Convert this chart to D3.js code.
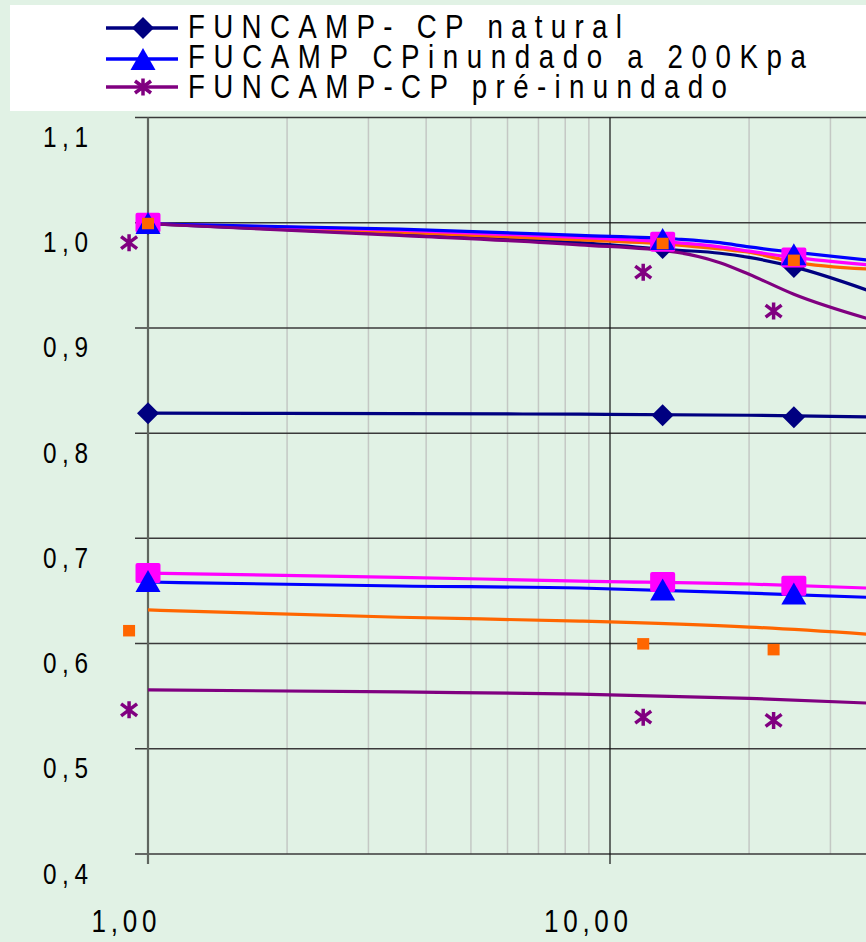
<!DOCTYPE html>
<html>
<head>
<meta charset="utf-8">
<script src="https://cdn.jsdelivr.net/npm/d3@7"></script>
<style>
  html, body { margin: 0; padding: 0; background: #e1f2e5; }
  svg { display: block; }
  text { font-family: "Liberation Sans", Arial, Helvetica, sans-serif; fill: #000; }
</style>
</head>
<body>
<svg></svg>
<script>
// line curves (x = stress, y = void ratio)
var lineX = [1, 3.5, 8.6, 13.9, 17.3, 20, 25, 36];
var upperNatural  = [0.999, 0.989, 0.981, 0.974, 0.971, 0.967, 0.958, 0.936];
var upperInundado = [0.999, 0.994, 0.988, 0.9845, 0.981, 0.977, 0.972, 0.9645];
var upperMagenta  = [0.999, 0.993, 0.986, 0.981, 0.977, 0.973, 0.967, 0.960];
var upperOrange   = [0.999, 0.991, 0.9836, 0.979, 0.975, 0.972, 0.9626, 0.956];
var upperPre      = [0.999, 0.988, 0.979, 0.972, 0.962, 0.951, 0.932, 0.909];

var lowerX = [1, 3.5, 8.6, 20, 36];
var lowerNatural  = [0.819, 0.8185, 0.818, 0.817, 0.8155];
var lowerInundado = [0.6585, 0.6547, 0.6528, 0.648, 0.644];
var lowerMagenta  = [0.667, 0.663, 0.6594, 0.6566, 0.6528];
var lowerOrange   = [0.632, 0.625, 0.6214, 0.6157, 0.609];
var lowerPre      = [0.556, 0.554, 0.552, 0.548, 0.5435];

// measured points
var markX  = [1, 13, 25];
var shiftX = [0.91, 11.8, 22.6];
var natUpperPts = [0.999, 0.976, 0.958], natLowerPts = [0.819, 0.817, 0.815];
var inuUpperPts = [0.9997, 0.9845, 0.970], inuLowerPts = [0.6594, 0.6513, 0.6475];
var magUpperPts = [1.0, 0.982, 0.967], magLowerPts = [0.667, 0.6585, 0.655];
var oraUpperPts = [0.999, 0.980, 0.964], oraLowerPts = [0.612, 0.5995, 0.594];
var preUpperPts = [0.981, 0.953, 0.916], preLowerPts = [0.537, 0.530, 0.527];

var legendLabels = ["FUNCAMP- CP natural", "FUCAMP CPinundado a 200Kpa", "FUNCAMP-CP pré-inundado"];
var yTicks = [0.4, 0.5, 0.6, 0.7, 0.8, 0.9, 1.0, 1.1];
var xTicks = [1, 10];
var xMinor = [2, 3, 4, 5, 6, 7, 8, 9, 20, 30];

var width = 866,
    height = 942;

var squeeze = 0.84;   // glyphs in the original are narrow

var colors = { natural: "#000080", inundado: "#0000ff", pre: "#800080", magenta: "#ff00ff", orange: "#ff6600" };

var svg = d3.select("svg")
  .attr("width", width)
  .attr("height", height);

var x = d3.scaleLog()
  .domain([1, 10])
  .range([148, 610]);

var y = d3.scaleLinear()
  .domain([0.4, 1.1])
  .range([854, 117.5]);

var commaFmt = function(f) { return function(d) { return d3.format(f)(d).replace(".", ","); }; };

// grid
var grid = svg.append("g").attr("class", "grid");

grid.selectAll("line.minor")
  .data(xMinor)
  .enter().append("line")
    .attr("class", "minor")
    .attr("x1", function(d) { return x(d); })
    .attr("x2", function(d) { return x(d); })
    .attr("y1", y(1.1))
    .attr("y2", y(0.4))
    .attr("stroke", "#c4c8c4")
    .attr("stroke-width", 1.5);

grid.selectAll("line.hgrid")
  .data(yTicks)
  .enter().append("line")
    .attr("class", "hgrid")
    .attr("x1", 135)
    .attr("x2", width)
    .attr("y1", function(d) { return y(d); })
    .attr("y2", function(d) { return y(d); })
    .attr("stroke", "#3a3a3a")
    .attr("stroke-width", 1.5);

grid.append("line")
  .attr("x1", x(10)).attr("x2", x(10))
  .attr("y1", y(1.1)).attr("y2", y(0.4) + 10)
  .attr("stroke", "#111")
  .attr("stroke-width", 1.2);

grid.append("line")
  .attr("x1", x(1)).attr("x2", x(1))
  .attr("y1", y(1.1)).attr("y2", y(0.4) + 10)
  .attr("stroke", "#5f665f")
  .attr("stroke-width", 2.2);

// axis labels
svg.append("g")
  .selectAll("text")
  .data(yTicks)
  .enter().append("text")
    .attr("transform", function(d) { return "translate(88," + (y(d) + 29.5) + ") scale(" + squeeze + ",1)"; })
    .attr("text-anchor", "end")
    .attr("font-size", 29)
    .attr("textLength", 45 / squeeze)
    .attr("lengthAdjust", "spacing")
    .text(commaFmt(".1f"));

svg.append("g")
  .selectAll("text")
  .data(xTicks)
  .enter().append("text")
    .attr("transform", function(d) { return "translate(" + (x(d) - 24) + ",932) scale(" + squeeze + ",1)"; })
    .attr("text-anchor", "middle")
    .attr("font-size", 31)
    .attr("textLength", function(d) { return (d < 10 ? 65 : 84) / squeeze; })
    .attr("lengthAdjust", "spacing")
    .text(commaFmt(".2f"));

// curves
var line = d3.line()
  .x(function(d) { return x(d[0]); })
  .y(function(d) { return y(d[1]); })
  .curve(d3.curveMonotoneX);

var curves = [
  { xs: lowerX, ys: lowerPre, color: colors.pre },
  { xs: lowerX, ys: lowerOrange, color: colors.orange },
  { xs: lowerX, ys: lowerInundado, color: colors.inundado },
  { xs: lowerX, ys: lowerMagenta, color: colors.magenta },
  { xs: lowerX, ys: lowerNatural, color: colors.natural },
  { xs: lineX, ys: upperNatural, color: colors.natural },
  { xs: lineX, ys: upperOrange, color: colors.orange },
  { xs: lineX, ys: upperMagenta, color: colors.magenta },
  { xs: lineX, ys: upperInundado, color: colors.inundado },
  { xs: lineX, ys: upperPre, color: colors.pre }
];

svg.append("g")
  .attr("class", "curves")
  .selectAll("path")
  .data(curves)
  .enter().append("path")
    .attr("fill", "none")
    .attr("stroke", function(d) { return d.color; })
    .attr("stroke-width", 3.2)
    .attr("d", function(d) { return line(d.xs.map(function(v, i) { return [v, d.ys[i]]; })); });

// marker shapes
function diamond(g, s) {
  g.append("path").attr("d", "M0,-11L11,0L0,11L-11,0Z").attr("fill", colors.natural).attr("transform", s);
}
function triangle(g, s) {
  g.append("path").attr("d", "M0,-11L12.5,11L-12.5,11Z").attr("fill", colors.inundado).attr("transform", s);
}
function bigSquare(g, s) {
  g.append("rect").attr("x", -12.5).attr("y", -10).attr("width", 25).attr("height", 20).attr("rx", 2)
    .attr("fill", colors.magenta).attr("transform", s);
}
function smallSquare(g, s) {
  g.append("rect").attr("x", -6).attr("y", -6).attr("width", 12).attr("height", 11.5)
    .attr("fill", colors.orange).attr("transform", s);
}
function asterisk(g, s) {
  g.append("path").attr("d", "M0,-8.5V8.5M-8,-6L8,6M-8,6L8,-6")
    .attr("stroke", colors.pre).attr("stroke-width", 3.5).attr("fill", "none").attr("transform", s);
}

function placePoints(xs, ys, shape) {
  var g = svg.append("g");
  xs.forEach(function(v, i) {
    shape(g, "translate(" + x(v) + "," + y(ys[i]) + ")");
  });
}

placePoints(markX, natUpperPts, diamond);
placePoints(markX, natLowerPts, diamond);
placePoints(markX, magUpperPts, bigSquare);
placePoints(markX, magLowerPts, bigSquare);
placePoints(markX, inuUpperPts, triangle);
placePoints(markX, inuLowerPts, triangle);
placePoints(markX, oraUpperPts, smallSquare);
placePoints(shiftX, oraLowerPts, smallSquare);
placePoints(shiftX, preUpperPts, asterisk);
placePoints(shiftX, preLowerPts, asterisk);

// legend
var legend = svg.append("g").attr("class", "legend");
legend.append("rect")
  .attr("x", 10).attr("y", 5)
  .attr("width", width).attr("height", 106)
  .attr("fill", "#fff");

var legendRows = [
  { color: colors.natural, shape: diamond, cy: 28, base: 38, len: 434 },
  { color: colors.inundado, shape: triangle, cy: 59, base: 68, len: 618 },
  { color: colors.pre, shape: asterisk, cy: 87, base: 98, len: 539 }
];

legendRows.forEach(function(r, i) {
  legend.append("line")
    .attr("x1", 106).attr("x2", 178)
    .attr("y1", r.cy).attr("y2", r.cy)
    .attr("stroke", r.color)
    .attr("stroke-width", 3.5);
  r.shape(legend, "translate(143," + r.cy + ")");
  legend.append("text")
    .attr("transform", "translate(188," + r.base + ") scale(" + squeeze + ",1)")
    .attr("font-size", 33)
    .attr("textLength", r.len / squeeze)
    .attr("lengthAdjust", "spacing")
    .text(legendLabels[i]);
});
</script>
</body>
</html>
